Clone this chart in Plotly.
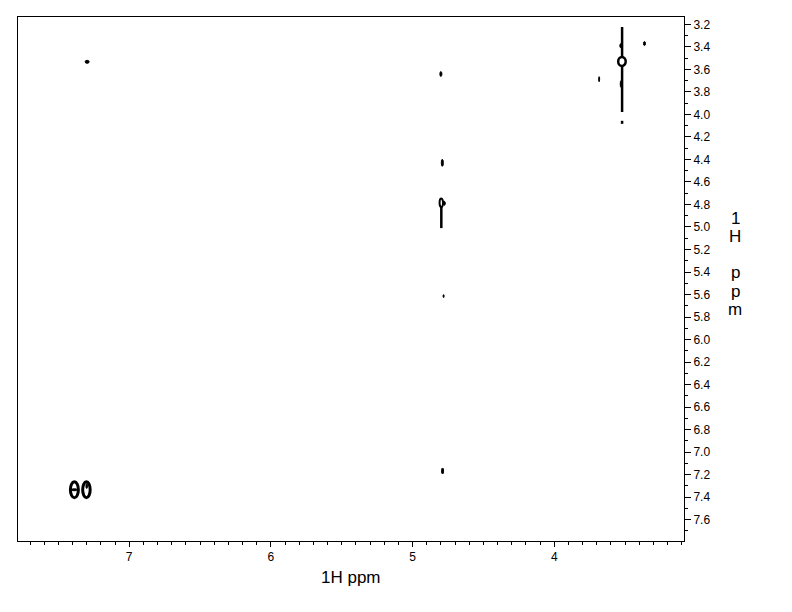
import plotly.graph_objects as go

# ---------------- data (ppm) ----------------
x_tick_vals = [7, 6, 5, 4]
y_tick_vals = [3.2, 3.4, 3.6, 3.8, 4.0, 4.2, 4.4, 4.6, 4.8, 5.0, 5.2, 5.4, 5.6,
               5.8, 6.0, 6.2, 6.4, 6.6, 6.8, 7.0, 7.2, 7.4, 7.6]

# t1 ridges (vertical streaks): x, start, end
ridge_x = [3.521, 3.521, 4.797]
ridge_y_start = [3.224, 4.057, 4.785]
ridge_y_end = [3.979, 4.084, 5.010]

# diagonal peaks (contour rings)
diag_x = [7.387, 7.302, 4.797, 3.522]
diag_y = [7.334, 7.334, 4.785, 3.530]

# small cross peaks / contour fragments
peak_x = [7.297, 4.800, 4.790, 4.781, 4.788, 3.363, 3.683, 3.530, 3.527, 4.776, 7.387, 7.300]
peak_y = [3.533, 3.641, 4.430, 5.614, 7.167, 3.371, 3.687, 3.390, 3.730, 4.790, 7.334, 7.300]

# ---------------- styles ----------------
ring_w = [8, 7.5, 3.5, 7.5]
ring_h = [16, 16, 8.5, 9]
ring_lw = [3, 3, 2, 2.5]
blob_w = [4, 2, 2, 1, 2, 2, 1, 2, 2, 2, 6, 1.5]
blob_h = [3, 5, 7, 3, 6, 4, 5, 4, 7, 4, 2, 5]

fig = go.Figure()

rx, ry = [], []
for x, y0, y1 in zip(ridge_x, ridge_y_start, ridge_y_end):
    rx += [x, x, None]
    ry += [y0, y1, None]
fig.add_trace(go.Scatter(x=rx, y=ry, mode="lines",
                         line=dict(color="black", width=2.5),
                         hoverinfo="skip", showlegend=False))

shapes = []
for x, y, w, h, lw in zip(diag_x, diag_y, ring_w, ring_h, ring_lw):
    shapes.append(dict(type="circle", xref="x", yref="y",
                       xsizemode="pixel", ysizemode="pixel",
                       xanchor=x, yanchor=y,
                       x0=-w / 2, x1=w / 2, y0=-h / 2, y1=h / 2,
                       fillcolor="white", line=dict(color="black", width=lw),
                       layer="above"))
for x, y, w, h in zip(peak_x, peak_y, blob_w, blob_h):
    shapes.append(dict(type="circle", xref="x", yref="y",
                       xsizemode="pixel", ysizemode="pixel",
                       xanchor=x, yanchor=y,
                       x0=-w / 2, x1=w / 2, y0=-h / 2, y1=h / 2,
                       fillcolor="black", line=dict(color="black", width=1),
                       layer="above"))

tick_font = dict(family="Liberation Sans, Arial, sans-serif", size=12, color="black")
title_font = dict(family="Liberation Sans, Arial, sans-serif", size=17, color="black")

annotations = [dict(text="1H ppm", xref="paper", yref="paper", x=0.5, y=0,
                    xanchor="center", yanchor="middle", yshift=-36,
                    showarrow=False, font=title_font)]
y_title_chars = ["1", "H", "p", "p", "m"]
y_title_lines = [0, 1, 3, 4, 5]
for ch, ln in zip(y_title_chars, y_title_lines):
    annotations.append(dict(text=ch, xref="paper", yref="paper", x=1, y=1,
                            xanchor="center", yanchor="middle",
                            xshift=51, yshift=-(201 + 18.3 * ln),
                            showarrow=False, font=title_font))

fig.update_layout(
    width=792, height=612,
    margin=dict(l=18, r=108, t=17, b=71),
    plot_bgcolor="white", paper_bgcolor="white",
    shapes=shapes, annotations=annotations,
    xaxis=dict(range=[7.785, 3.084], tickvals=x_tick_vals,
               ticktext=[str(v) for v in x_tick_vals],
               ticks="outside", ticklen=5, tickwidth=1, tickcolor="black",
               minor=dict(dtick=0.1, tick0=0, ticks="outside", ticklen=3,
                          tickwidth=1, tickcolor="black", showgrid=False),
               showline=True, linecolor="black", linewidth=1, mirror=True,
               showgrid=False, zeroline=False, tickfont=tick_font),
    yaxis=dict(range=[7.789, 3.135], side="right", tickvals=y_tick_vals,
               ticktext=[f"{v:.1f}" for v in y_tick_vals],
               ticks="outside", ticklen=6, tickwidth=1, tickcolor="black",
               minor=dict(dtick=0.1, tick0=0, ticks="outside", ticklen=3,
                          tickwidth=1, tickcolor="black", showgrid=False),
               showline=True, linecolor="black", linewidth=1, mirror=True,
               showgrid=False, zeroline=False, tickfont=tick_font),
)

fig.write_html("out.html", config={"displayModeBar": False},
               post_script="document.body.style.margin='0';document.body.style.overflow='hidden';")
